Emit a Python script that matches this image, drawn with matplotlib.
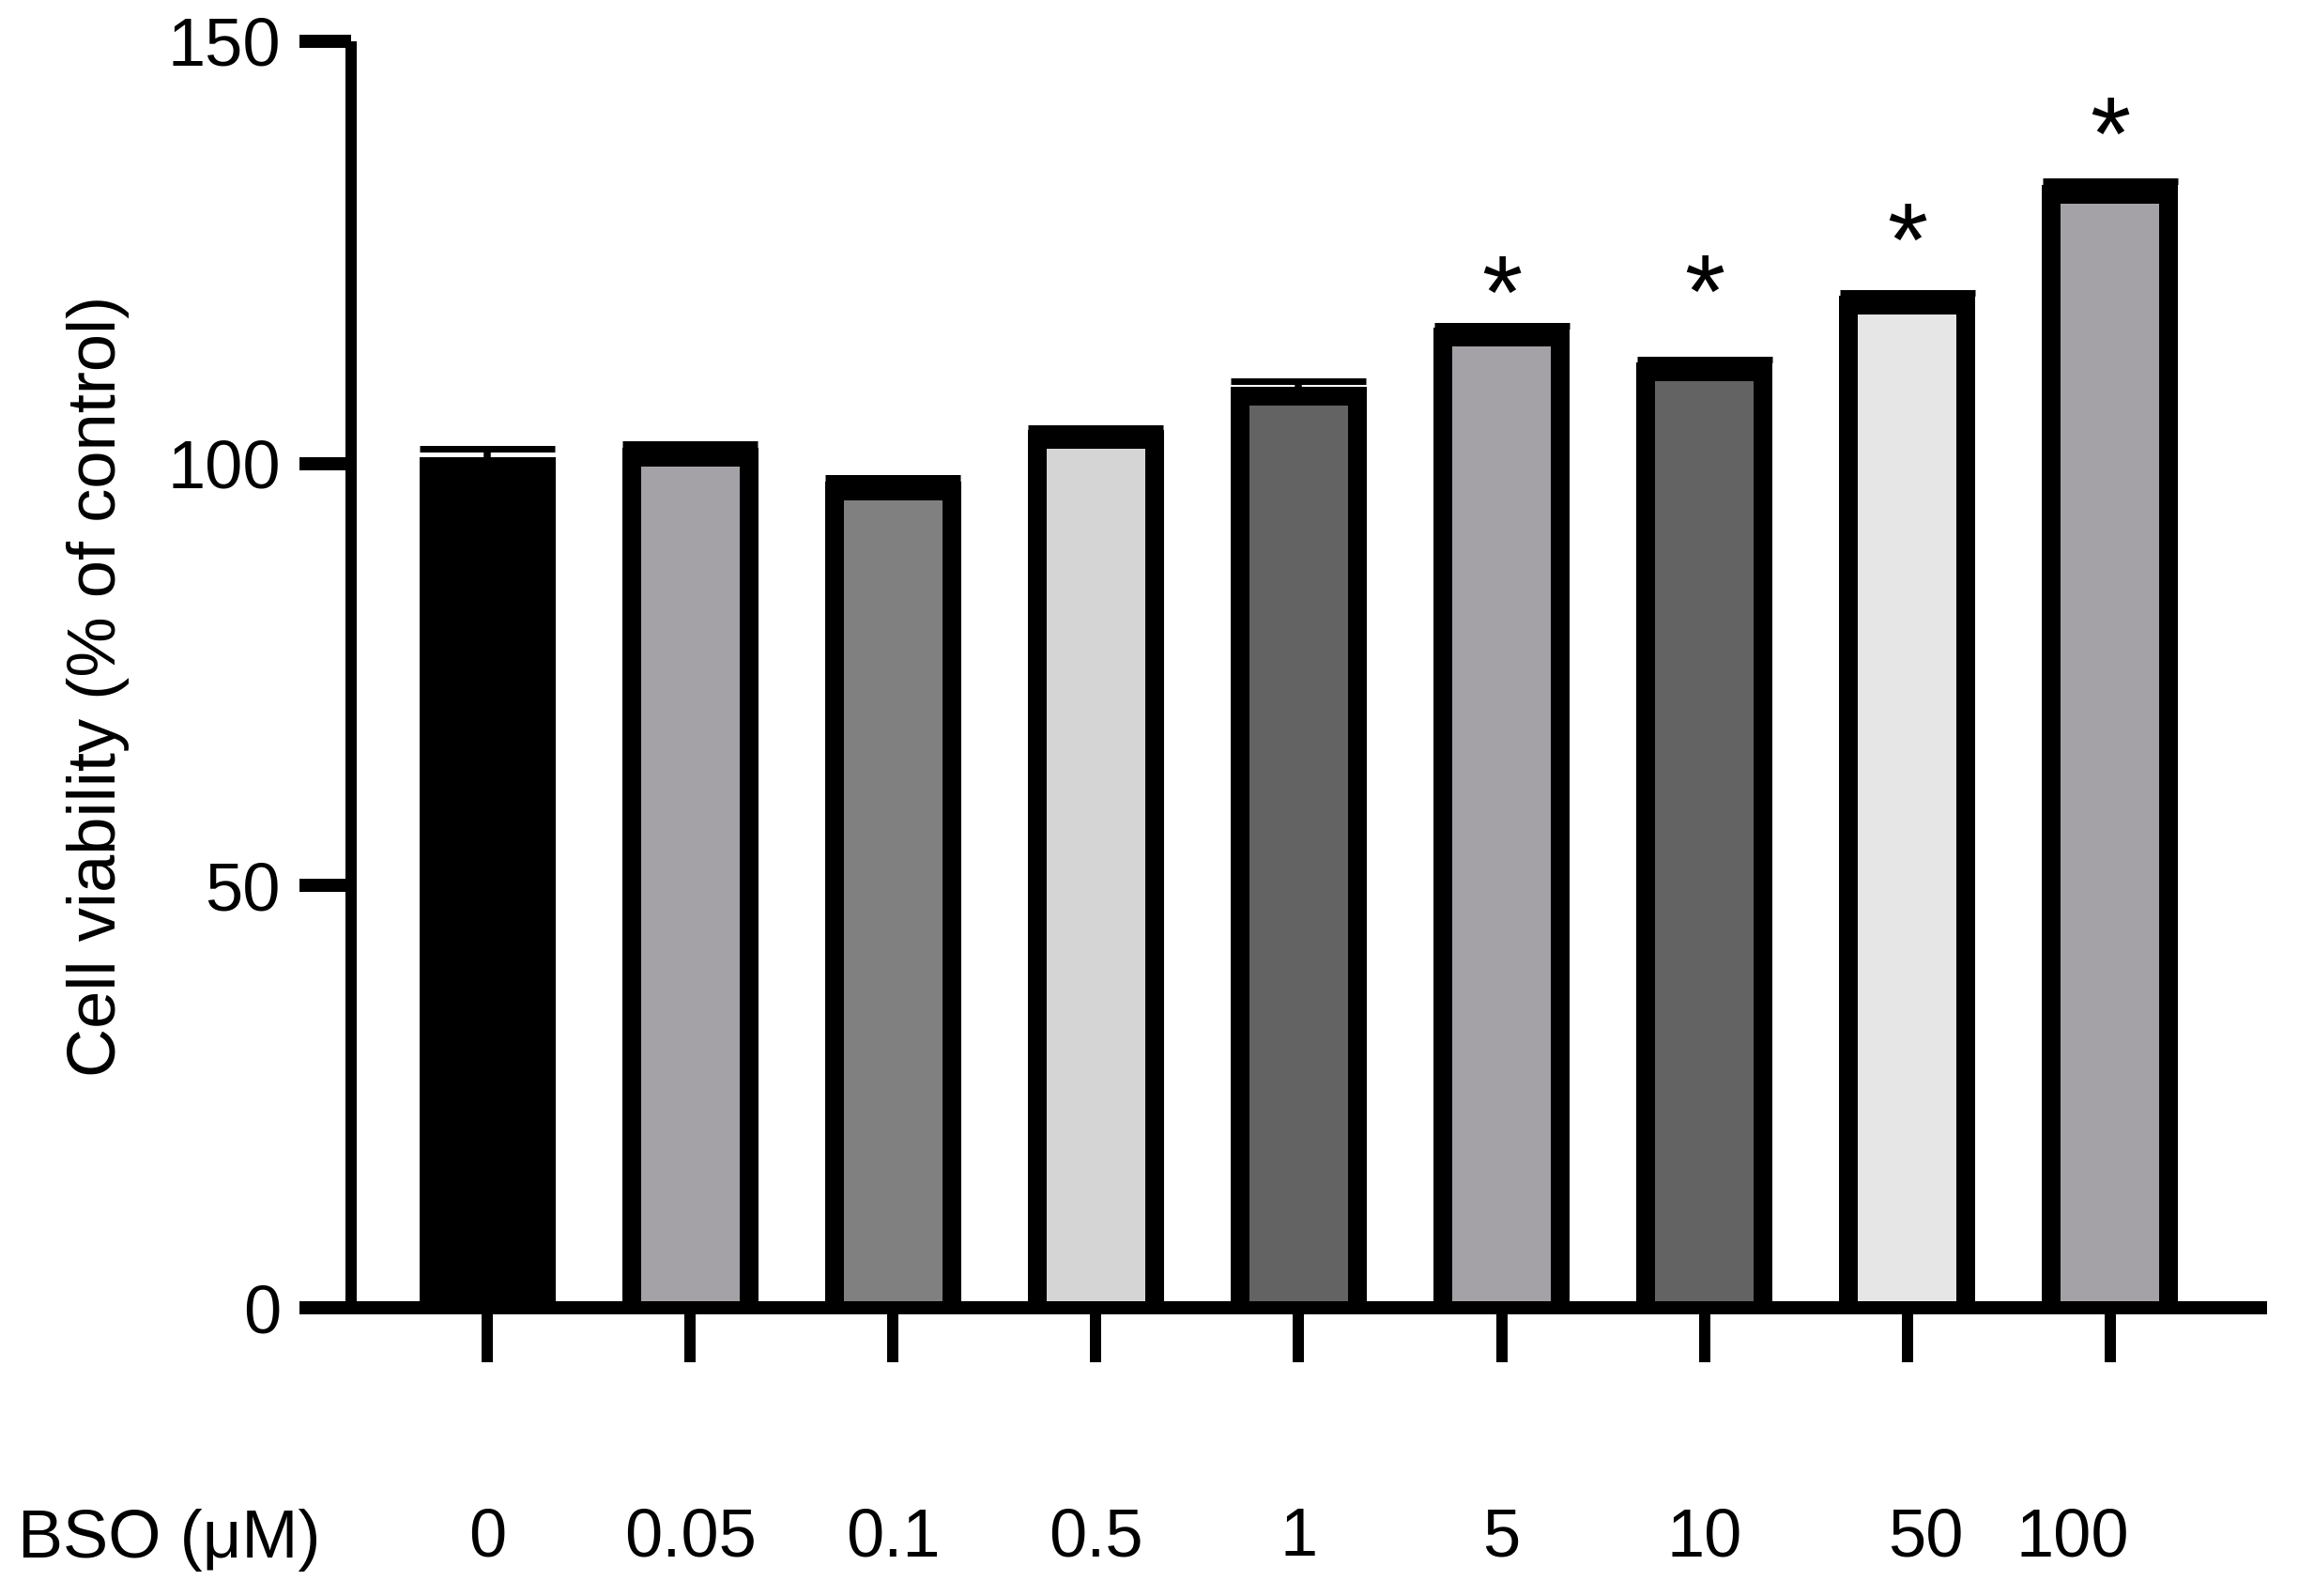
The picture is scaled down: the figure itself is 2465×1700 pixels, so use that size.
import numpy as np
import matplotlib
matplotlib.use("Agg")
import matplotlib.pyplot as plt
from matplotlib.transforms import offset_copy, ScaledTranslation, Bbox, TransformedBbox

# ---- data ----
categories = ["0", "0.05", "0.1", "0.5", "1", "5", "10", "50", "100"]
viability = [100.7, 101.9, 97.9, 104.0, 109.1, 116.1, 112.0, 119.9, 133.0]
sem = [1.0, 0.4, 0.4, 0.2, 0.7, 0.2, 0.35, 0.35, 0.4]
significance = ["", "", "", "", "", "*", "*", "*", "*"]
star_y = [None, None, None, None, None, 121.9, 122.0, 128.2, 140.7]
bar_colors = ["#000000", "#a4a1a7", "#808080", "#d5d5d5", "#636363",
              "#a4a1a7", "#636363", "#e6e6e6", "#a4a1a7"]
yticks = [0, 50, 100, 150]
ylabel = "Cell viability (% of control)"
xtitle = "BSO (\u03bcM)"

plt.rcParams['font.family'] = ['Liberation Sans', 'DejaVu Sans']

W, H, DPI = 2465, 1700, 100
fig = plt.figure(figsize=(W / DPI, H / DPI), dpi=DPI)
ax = fig.add_axes([374 / W, 1 - 1393 / H, (2408 - 374) / W, (1393 - 44) / H])
ax.set_xlim(-0.671, 8.741)
ax.set_ylim(0, 150)

x = np.arange(len(categories))
px = 72 / DPI  # points per pixel
bar_w = 0.671
below = 5.0  # bars start below the baseline so their bottom border is hidden
vals = np.array(viability)
bars = ax.bar(x, vals + below, bottom=-below, width=bar_w, color=bar_colors,
              edgecolor="black", linewidth=40 * px, zorder=2)
for xi, v, b in zip(x, vals, bars):
    b.set_clip_box(TransformedBbox(Bbox([[xi - bar_w / 2, 0], [xi + bar_w / 2, v]]),
                                   ax.transData))

eb = ax.errorbar(x, vals, yerr=[np.zeros(len(sem)), sem], fmt="none",
                 ecolor="black", elinewidth=7.5 * px, capsize=72 * px,
                 capthick=7 * px, zorder=3)
for cl in eb[1]:
    if np.allclose(cl.get_ydata(), vals):
        cl.set_visible(False)

star_fs = 80
star_tr = offset_copy(ax.transData, fig=fig, y=-0.48 * star_fs, units="points")
for xi, s, sy in zip(x, significance, star_y):
    if s:
        ax.text(xi, sy, s, transform=star_tr, ha="center", va="baseline",
                fontsize=star_fs, color="black")

ax.set_yticks(yticks)
ax.set_xticks(x)
ax.set_xticklabels(categories)

for side in ["top", "right"]:
    ax.spines[side].set_visible(False)
ax.spines["left"].set_linewidth(12 * px)
ax.spines["bottom"].set_linewidth(14 * px)
ax.spines["left"].set_capstyle("butt")

ax.tick_params(axis="y", length=55 * px, width=14 * px, pad=20 * px,
               labelsize=52, colors="black")
ax.tick_params(axis="x", length=58 * px, width=12 * px, pad=154 * px,
               labelsize=52, colors="black")

label_dx = {"50": 20, "100": -40}
for lab in ax.get_xticklabels():
    dx = label_dx.get(lab.get_text(), 0)
    if dx:
        lab.set_transform(lab.get_transform() +
                          ScaledTranslation(dx / DPI, 0, fig.dpi_scale_trans))

ax.set_ylabel(ylabel, fontsize=52)
ax.yaxis.set_label_coords((105 - 374) / (2408 - 374), (1393 - 731) / (1393 - 44))
ax.yaxis.label.set_va("center")

fig.text(19 / W, 1 - 1607 / H, xtitle, ha="left", va="top", fontsize=52)

fig.savefig("out.png", dpi=DPI, facecolor="white")
